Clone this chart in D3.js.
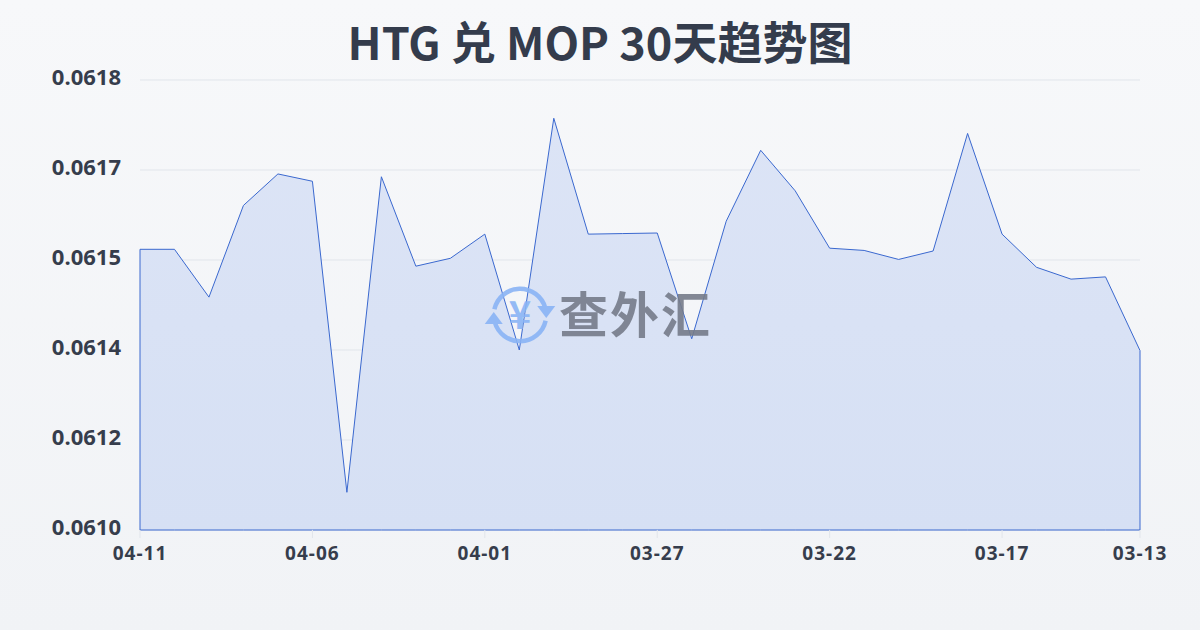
<!DOCTYPE html>
<html>
<head>
<meta charset="utf-8">
<script src="https://cdn.jsdelivr.net/npm/d3@7"></script>
<style>
html,body{margin:0;padding:0;}
body{width:1200px;height:630px;overflow:hidden;}
</style>
</head>
<body>
<svg id="chart" width="1200" height="630"></svg>
<script>
const titleText = "HTG 兑 MOP 30天趋势图";
const dates = ["04-11","04-10","04-09","04-08","04-07","04-06","04-05","04-04","04-03","04-02",
  "04-01","03-31","03-30","03-29","03-28","03-27","03-26","03-25","03-24","03-23",
  "03-22","03-21","03-20","03-19","03-18","03-17","03-16","03-15","03-14","03-13"];
const rates = [0.061539,0.061539,0.061454,0.061617,0.061673,0.061660,0.061107,0.061668,0.061509,0.061523,
  0.061566,0.061360,0.061772,0.061566,0.061567,0.061568,0.061380,0.061589,0.061715,0.061643,
  0.061541,0.061537,0.061521,0.061536,0.061745,0.061566,0.061507,0.061486,0.061490,0.061359];
const xTickLabels = ["04-11","04-06","04-01","03-27","03-22","03-17","03-13"];
const yTickValues = [0.06104,0.0612,0.06136,0.06152,0.06168,0.06184];
const yTickLabels = ["0.0610","0.0612","0.0614","0.0615","0.0617","0.0618"];

const svg = d3.select("#chart");
const W = 1200, H = 630;
const m = {left:140, right:60, top:80, bottom:100};

const defs = svg.append("defs");
const bg = defs.append("linearGradient").attr("id","bg").attr("x1",0).attr("y1",0).attr("x2",0).attr("y2",1);
bg.append("stop").attr("offset","0%").attr("stop-color","#f7f8fa");
bg.append("stop").attr("offset","100%").attr("stop-color","#f1f3f6");
const af = defs.append("linearGradient").attr("id","af").attr("x1",0).attr("y1",0).attr("x2",0).attr("y2",1);
af.append("stop").attr("offset","0%").attr("stop-color","#dce4f6");
af.append("stop").attr("offset","100%").attr("stop-color","#d6e0f4");

svg.append("rect").attr("width",W).attr("height",H).attr("fill","url(#bg)");

const x = d3.scalePoint().domain(dates).range([m.left, W - m.right]);
const y = d3.scaleLinear().domain([yTickValues[0], yTickValues[yTickValues.length-1]]).range([H - m.bottom, m.top]);

// gridlines
svg.append("g").selectAll("line").data(yTickValues).join("line")
  .attr("x1", m.left).attr("x2", W - m.right)
  .attr("y1", d => y(d)).attr("y2", d => y(d))
  .attr("stroke", "#e1e5eb").attr("stroke-width", 1);

// y labels
svg.append("g").selectAll("text").data(yTickValues).join("text")
  .attr("x", 121).attr("y", d => y(d) + 5)
  .attr("text-anchor","end")
  .attr("font-family","'Open Sans','Noto Sans',sans-serif").attr("font-weight","700")
  .attr("font-size","22px").attr("fill","#363d4c")
  .text((d,i) => yTickLabels[i]);

// area
const area = d3.area().x((d,i)=>x(dates[i])).y0(y(yTickValues[0])).y1(d=>y(d));
svg.append("path").datum(rates).attr("d", area)
  .attr("fill","url(#af)").attr("stroke","#3a68cf").attr("stroke-width",1).attr("stroke-linejoin","miter");

// x axis ticks
const xTicks = svg.append("g");
xTicks.selectAll("line").data(xTickLabels).join("line")
  .attr("x1", d=>x(d)).attr("x2", d=>x(d))
  .attr("y1", H - m.bottom).attr("y2", H - m.bottom + 8)
  .attr("stroke","#e1e5eb");
xTicks.selectAll("text").data(xTickLabels).join("text")
  .attr("x", d=>x(d)).attr("y", 560)
  .attr("text-anchor","middle")
  .attr("font-family","'Open Sans','Noto Sans',sans-serif").attr("font-weight","700")
  .attr("font-size","19px").attr("letter-spacing","1px").attr("fill","#363d4c")
  .text(d=>d);

// watermark
const wm = svg.append("g").attr("opacity",0.9);
const cx = 520, cy = 315, ri = 24, ro = 28.5;
const logoColor = "#8ab4f5";
const arc = d3.arc().innerRadius(ri).outerRadius(ro);
wm.append("path").attr("transform",`translate(${cx},${cy})`)
  .attr("d", arc({startAngle: -1.35, endAngle: 1.3})).attr("fill",logoColor);
wm.append("path").attr("transform",`translate(${cx},${cy})`)
  .attr("d", arc({startAngle: Math.PI-1.35, endAngle: Math.PI+1.3})).attr("fill",logoColor);
const rm = (ri+ro)/2;
wm.append("path").attr("d",`M${cx+rm-9},${cy-9} L${cx+rm+9},${cy-9} L${cx+rm},${cy+3} Z`).attr("fill",logoColor);
wm.append("path").attr("d",`M${cx-rm-9},${cy+9} L${cx-rm+9},${cy+9} L${cx-rm},${cy-3} Z`).attr("fill",logoColor);
wm.append("text").attr("x",cx).attr("y",cy).attr("dy","0.36em").attr("text-anchor","middle")
  .attr("font-family","'Noto Sans CJK SC',sans-serif").attr("font-weight","700")
  .attr("font-size","38px").attr("fill",logoColor).text("¥");
wm.append("text").attr("x",559).attr("y",cy).attr("dy","0.36em")
  .attr("font-family","'Noto Sans CJK SC',sans-serif").attr("font-weight","700")
  .attr("font-size","49px").attr("fill","#767c8a").attr("letter-spacing","2px").text("查外汇");

// title
svg.append("text").attr("x",600).attr("y",60).attr("text-anchor","middle")
  .attr("font-family","'Noto Sans CJK SC','Noto Sans',sans-serif").attr("font-weight","700")
  .attr("font-size","45px").attr("fill","#343c4c").text(titleText);
</script>
</body>
</html>
